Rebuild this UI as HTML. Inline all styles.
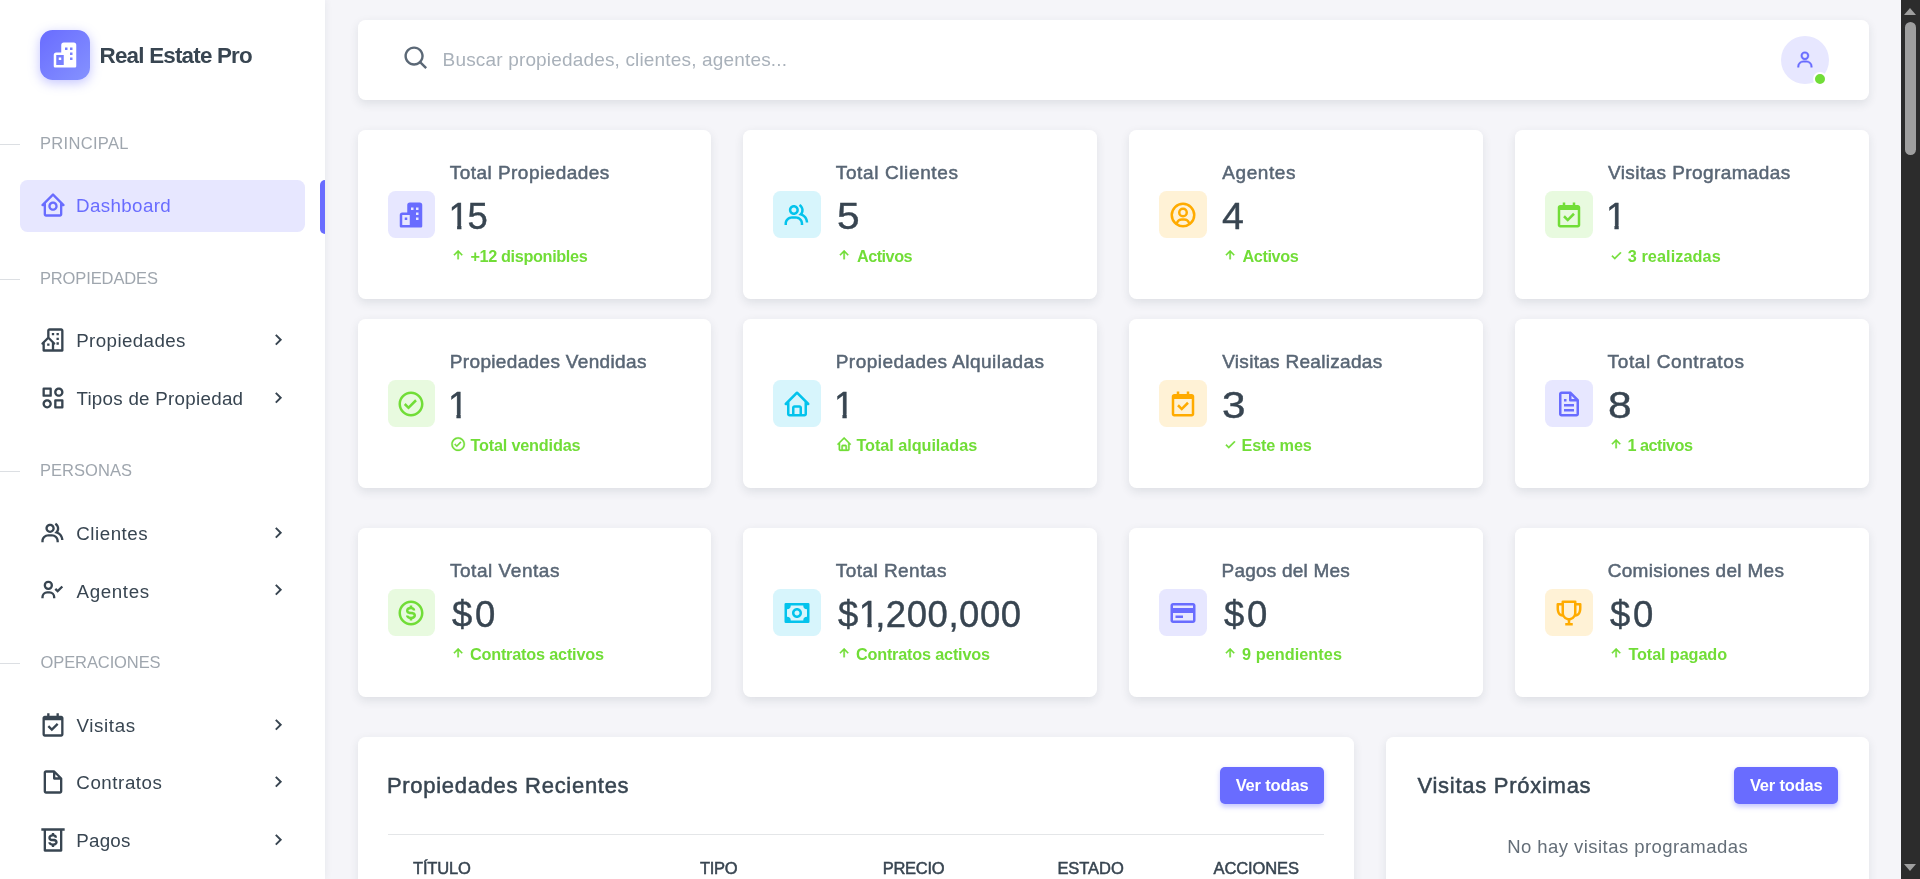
<!DOCTYPE html>
<html lang="es"><head><meta charset="utf-8"><title>Real Estate Pro - Dashboard</title>
<style>
*{box-sizing:border-box;margin:0;padding:0}
html{background:#f5f5f9}
html,body{width:1920px;height:879px;overflow:hidden;font-family:"Liberation Sans", sans-serif;}
body{position:relative;background:transparent;will-change:transform}
.t{position:absolute;white-space:nowrap;display:block}
.i{position:absolute;display:block}
.sidebar{position:absolute;left:0;top:0;width:325px;height:879px;background:#fff;box-shadow:0 0 8px rgba(34,48,62,.07)}
.logo{position:absolute;left:40px;top:30px;width:50px;height:50px;border-radius:12.5px;background:linear-gradient(135deg,#696cff 0%,#8592ff 100%);box-shadow:0 3px 12px rgba(105,108,255,.4)}
.hl{position:absolute;left:0;width:20px;height:1px;background:#dcdfe3}
.active{position:absolute;left:20px;top:180px;width:285px;height:52px;border-radius:7.5px;background:#e7e7ff}
.abar{position:absolute;left:320px;top:180px;width:5px;height:54px;border-radius:5px 0 0 5px;background:#696cff}
.navbar{position:absolute;left:357.5px;top:20px;width:1511px;height:80px;background:#fff;border-radius:7.5px;box-shadow:0 3.75px 10px rgba(34,48,62,.1)}
.avatar{position:absolute;left:1423.5px;top:16px;width:48px;height:48px;border-radius:50%;background:#e7e7ff}
.dot{position:absolute;left:31.5px;top:35.5px;width:14.5px;height:14.5px;border-radius:50%;background:#71dd37;border:2.5px solid #fff}
.card{position:absolute;background:#fff;border-radius:7.5px;box-shadow:0 3.75px 10px rgba(34,48,62,.1)}
.stat{height:169px}
.med{-webkit-text-stroke:.5px currentColor}
.num{-webkit-text-stroke:.4px currentColor}
.one{display:inline-block}
.av{position:absolute;left:30px;top:61px;width:47.5px;height:47px;border-radius:7.5px}
.btn{position:absolute;display:block;width:104px;height:36.7px;border-radius:5px;background:#696cff;box-shadow:0 2.5px 5px rgba(105,108,255,.38)}
.hr{position:absolute;height:1px;background:#e4e6e8}
.sbar{position:absolute;left:1901px;top:0;width:19px;height:879px;background:#2c2c2c}
.sbar .thumb{position:absolute;left:4px;top:22px;width:11px;height:133px;border-radius:5.5px;background:#9f9f9f}
.sbar .up{position:absolute;left:2.9px;top:8px;width:0;height:0;border-left:6.7px solid transparent;border-right:6.7px solid transparent;border-bottom:7px solid #9f9f9f}
.sbar .down{position:absolute;left:2.9px;top:864px;width:0;height:0;border-left:6.7px solid transparent;border-right:6.7px solid transparent;border-top:7px solid #9f9f9f}
</style></head>
<body>
<aside class="sidebar"><div class="logo"><svg class="i" style="left:10.00px;top:10.00px;width:30px;height:30px;" viewBox="0 0 24 24" fill="#fff"><path fill-rule="evenodd" d="M11 2h8a2 2 0 0 1 2 2v17a1 1 0 0 1-1 1H4a1 1 0 0 1-1-1v-9a2 2 0 0 1 2-2h4V4a2 2 0 0 1 2-2zM5 12h6v8H5zM12 6h2v2h-2zM16 6h2v2h-2zM16 10h2v2h-2zM16 14h2v2h-2zM7 14h2v2H7z"/></svg></div><span class="t " style="left:99.60px;top:43.00px;font-size:22.4px;line-height:25px;letter-spacing:-0.797px;color:#384551;font-weight:700;">Real Estate Pro</span><div class="hl" style="top:144px"></div><span class="t " style="left:39.90px;top:134.00px;font-size:16.5px;line-height:18px;letter-spacing:0.337px;color:#9fa6ae;">PRINCIPAL</span><div class="hl" style="top:279px"></div><span class="t " style="left:39.90px;top:269.00px;font-size:16.5px;line-height:18px;letter-spacing:-0.109px;color:#9fa6ae;">PROPIEDADES</span><div class="hl" style="top:471px"></div><span class="t " style="left:39.90px;top:461.00px;font-size:16.5px;line-height:18px;letter-spacing:0.059px;color:#9fa6ae;">PERSONAS</span><div class="hl" style="top:663px"></div><span class="t " style="left:40.50px;top:653.00px;font-size:16.5px;line-height:18px;letter-spacing:-0.092px;color:#9fa6ae;">OPERACIONES</span><div class="active"></div><div class="abar"></div><svg class="i" style="left:39.00px;top:190.50px;width:28px;height:28px;" viewBox="0 0 24 24" fill="#696cff"><path d="M3 13h1v7c0 1.103.897 2 2 2h12c1.103 0 2-.897 2-2v-7h1a1 1 0 0 0 .707-1.707l-9-9a.999.999 0 0 0-1.414 0l-9 9A1 1 0 0 0 3 13zm9-8.586 6 6V15l.001 5H6v-9.586l6-6z"/><path d="M12 17c2.206 0 4-1.794 4-4s-1.794-4-4-4-4 1.794-4 4 1.794 4 4 4zm0-6c1.103 0 2 .897 2 2s-.897 2-2 2-2-.897-2-2 .897-2 2-2z"/></svg><span class="t " style="left:76.10px;top:195.00px;font-size:18.75px;line-height:21px;letter-spacing:0.363px;color:#696cff;">Dashboard</span><svg class="i" style="left:39.00px;top:325.70px;width:28px;height:28px;" viewBox="0 0 24 24" fill="#384551"><path d="M19 2H9c-1.103 0-2 .897-2 2v5.586l-4.707 4.707A1 1 0 0 0 3 16v5a1 1 0 0 0 1 1h16a1 1 0 0 0 1-1V4c0-1.103-.897-2-2-2zm-8 18H5v-5.586l3-3 3 3V20zm8 0h-6v-4a.999.999 0 0 0 .707-1.707L9 9.586V4h10v16z"/><path d="M11 6h2v2h-2zm4 0h2v2h-2zm0 4.031h2V12h-2zM15 14h2v2h-2zm-8 1h2v2H7z"/></svg><span class="t " style="left:76.20px;top:330.00px;font-size:18.75px;line-height:21px;letter-spacing:0.399px;color:#384551;">Propiedades</span><svg class="i" style="left:265.85px;top:327.75px;width:23.5px;height:23.5px;" viewBox="0 0 24 24" fill="#384551"><path d="M10.707 17.707 16.414 12l-5.707-5.707-1.414 1.414L13.586 12l-4.293 4.293z"/></svg><svg class="i" style="left:39.00px;top:383.50px;width:28px;height:28px;" viewBox="0 0 24 24" fill="#384551"><path d="M10 3H4a1 1 0 0 0-1 1v6a1 1 0 0 0 1 1h6a1 1 0 0 0 1-1V4a1 1 0 0 0-1-1zM9 9H5V5h4v4zm11 4h-6a1 1 0 0 0-1 1v6a1 1 0 0 0 1 1h6a1 1 0 0 0 1-1v-6a1 1 0 0 0-1-1zm-1 6h-4v-4h4v4zM17 3c-2.206 0-4 1.794-4 4s1.794 4 4 4 4-1.794 4-4-1.794-4-4-4zm0 6c-1.103 0-2-.897-2-2s.897-2 2-2 2 .897 2 2-.897 2-2 2zM7 13c-2.206 0-4 1.794-4 4s1.794 4 4 4 4-1.794 4-4-1.794-4-4-4zm0 6c-1.103 0-2-.897-2-2s.897-2 2-2 2 .897 2 2-.897 2-2 2z"/></svg><span class="t " style="left:76.40px;top:388.00px;font-size:18.75px;line-height:21px;letter-spacing:0.277px;color:#384551;">Tipos de Propiedad</span><svg class="i" style="left:265.85px;top:385.55px;width:23.5px;height:23.5px;" viewBox="0 0 24 24" fill="#384551"><path d="M10.707 17.707 16.414 12l-5.707-5.707-1.414 1.414L13.586 12l-4.293 4.293z"/></svg><svg class="i" style="left:39.00px;top:519.10px;width:28px;height:28px;" viewBox="0 0 24 24" fill="#384551"><path d="M16.604 11.048a5.67 5.67 0 0 0 .751-3.44c-.179-1.784-1.175-3.361-2.803-4.44l-1.105 1.666c1.119.742 1.8 1.799 1.918 2.974a3.693 3.693 0 0 1-1.072 2.986l-1.192 1.192 1.618.475C18.951 13.701 19 17.957 19 18h2c0-1.789-.956-5.285-4.396-6.952z"/><path d="M9.5 12c2.206 0 4-1.794 4-4s-1.794-4-4-4-4 1.794-4 4 1.794 4 4 4zm0-6c1.103 0 2 .897 2 2s-.897 2-2 2-2-.897-2-2 .897-2 2-2zm1.500 7H8c-3.309 0-6 2.691-6 6v1h2v-1c0-2.206 1.794-4 4-4h3c2.206 0 4 1.794 4 4v1h2v-1c0-3.309-2.691-6-6-6z"/></svg><span class="t " style="left:76.30px;top:523.00px;font-size:18.75px;line-height:21px;letter-spacing:0.519px;color:#384551;">Clientes</span><svg class="i" style="left:265.85px;top:521.15px;width:23.5px;height:23.5px;" viewBox="0 0 24 24" fill="#384551"><path d="M10.707 17.707 16.414 12l-5.707-5.707-1.414 1.414L13.586 12l-4.293 4.293z"/></svg><svg class="i" style="left:39.00px;top:576.30px;width:28px;height:28px;" viewBox="0 0 24 24" fill="#384551"><path d="M19.29 8.29 16 11.58l-1.3-1.290-1.410 1.420 2.700 2.700 4.710-4.700zM4 8a3.910 3.910 0 0 0 4 4 3.910 3.910 0 0 0 4-4 3.910 3.910 0 0 0-4-4 3.910 3.910 0 0 0-4 4zm6 0a1.910 1.910 0 0 1-2 2 1.910 1.910 0 0 1-2-2 1.910 1.910 0 0 1 2-2 1.910 1.910 0 0 1 2 2zM4 18a3 3 0 0 1 3-3h2a3 3 0 0 1 3 3v1h2v-1a5 5 0 0 0-5-5H7a5 5 0 0 0-5 5v1h2z"/></svg><span class="t " style="left:76.60px;top:581.00px;font-size:18.75px;line-height:21px;letter-spacing:0.612px;color:#384551;">Agentes</span><svg class="i" style="left:265.85px;top:578.35px;width:23.5px;height:23.5px;" viewBox="0 0 24 24" fill="#384551"><path d="M10.707 17.707 16.414 12l-5.707-5.707-1.414 1.414L13.586 12l-4.293 4.293z"/></svg><svg class="i" style="left:39.00px;top:710.70px;width:28px;height:28px;" viewBox="0 0 24 24" fill="#384551"><path d="M19 4h-2V2h-2v2H9V2H7v2H5c-1.103 0-2 .897-2 2v14c0 1.103.897 2 2 2h14c1.103 0 2-.897 2-2V6c0-1.103-.897-2-2-2zm.002 16H5V8h14l.002 12z"/><path d="m11 17.414 5.707-5.707-1.414-1.414L11 14.586l-2.293-2.293-1.414 1.414z"/></svg><span class="t " style="left:76.60px;top:715.00px;font-size:18.75px;line-height:21px;letter-spacing:0.598px;color:#384551;">Visitas</span><svg class="i" style="left:265.85px;top:712.75px;width:23.5px;height:23.5px;" viewBox="0 0 24 24" fill="#384551"><path d="M10.707 17.707 16.414 12l-5.707-5.707-1.414 1.414L13.586 12l-4.293 4.293z"/></svg><svg class="i" style="left:39.00px;top:767.90px;width:28px;height:28px;" viewBox="0 0 24 24" fill="#384551"><path d="M19.937 8.680c-.011-.032-.02-.063-.033-.094a.997.997 0 0 0-.196-.293l-6-6a.997.997 0 0 0-.293-.196c-.03-.014-.062-.022-.094-.033a.991.991 0 0 0-.259-.051C13.040 2.011 13.021 2 13 2H6c-1.103 0-2 .897-2 2v16c0 1.103.897 2 2 2h12c1.103 0 2-.897 2-2V9c0-.021-.011-.04-.013-.062a.990.990 0 0 0-.050-.258zM16.586 8H14V5.414L16.586 8zM6 20V4h6v5a1 1 0 0 0 1 1h5l.002 10H6z"/></svg><span class="t " style="left:76.30px;top:772.00px;font-size:18.75px;line-height:21px;letter-spacing:0.548px;color:#384551;">Contratos</span><svg class="i" style="left:265.85px;top:769.95px;width:23.5px;height:23.5px;" viewBox="0 0 24 24" fill="#384551"><path d="M10.707 17.707 16.414 12l-5.707-5.707-1.414 1.414L13.586 12l-4.293 4.293z"/></svg><svg class="i" style="left:39.00px;top:825.60px;width:28px;height:28px;" viewBox="0 0 24 24" fill="#384551"><path d="M12 15c-1.840 0-2-.860-2-1H8c0 .920.660 2.550 3 2.920V18h2v-1.080c2-.340 3-1.630 3-2.920 0-1.120-.520-3-4-3-2 0-2-.630-2-1s.700-1 2-1 1.390.640 1.400 1h2A3 3 0 0 0 13 7.120V6h-2v1.090C9 7.420 8 8.710 8 10c0 1.120.520 3 4 3 2 0 2 .680 2 1s-.620 1-2 1z"/><path d="M5 2H2v2h2v17a1 1 0 0 0 1 1h14a1 1 0 0 0 1-1V4h2V2H5zm13 18H6V4h12z"/></svg><span class="t " style="left:76.20px;top:830.00px;font-size:18.75px;line-height:21px;letter-spacing:0.253px;color:#384551;">Pagos</span><svg class="i" style="left:265.85px;top:827.65px;width:23.5px;height:23.5px;" viewBox="0 0 24 24" fill="#384551"><path d="M10.707 17.707 16.414 12l-5.707-5.707-1.414 1.414L13.586 12l-4.293 4.293z"/></svg></aside>
<nav class="navbar"><svg class="i" style="left:44.85px;top:24.40px;width:29px;height:29px;" viewBox="0 0 24 24" fill="#5b6876"><path d="M10 18a7.952 7.952 0 0 0 4.897-1.688l4.396 4.396 1.414-1.414-4.396-4.396A7.952 7.952 0 0 0 18 10c0-4.411-3.589-8-8-8s-8 3.589-8 8 3.589 8 8 8zm0-14c3.309 0 6 2.691 6 6s-2.691 6-6 6-6-2.691-6-6 2.691-6 6-6z"/></svg><span class="t " style="left:85.10px;top:29.00px;font-size:19px;line-height:21px;letter-spacing:0.164px;color:#a9b1ba;">Buscar propiedades, clientes, agentes...</span><div class="avatar"><svg class="i" style="left:14.10px;top:14.10px;width:19.8px;height:19.8px;stroke:#696cff;stroke-width:.45px" viewBox="0 0 24 24" fill="#696cff"><path d="M12 2a5 5 0 1 0 5 5 5 5 0 0 0-5-5zm0 8a3 3 0 1 1 3-3 3 3 0 0 1-3 3zm9 11v-1a7 7 0 0 0-7-7h-4a7 7 0 0 0-7 7v1h2v-1a5 5 0 0 1 5-5h4a5 5 0 0 1 5 5v1z"/></svg><i class="dot"></i></div></nav>
<div class="card stat" style="left:357.5px;top:130px;width:353.25px"><div class="av" style="background:#e7e7ff"><svg class="i" style="left:8.75px;top:8.60px;width:30px;height:30px;" viewBox="0 0 24 24" fill="#696cff"><path fill-rule="evenodd" d="M11 2h8a2 2 0 0 1 2 2v17a1 1 0 0 1-1 1H4a1 1 0 0 1-1-1v-9a2 2 0 0 1 2-2h4V4a2 2 0 0 1 2-2zM5 12h6v8H5zM12 6h2v2h-2zM16 6h2v2h-2zM16 10h2v2h-2zM16 14h2v2h-2zM7 14h2v2H7z"/></svg></div><span class="t med" style="left:92.20px;top:32.00px;font-size:19px;line-height:21px;letter-spacing:0.469px;color:#596675;">Total Propiedades</span><span class="t num" style="left:91.09px;top:66.00px;font-size:36.5px;line-height:41px;letter-spacing:3.054px;color:#384551;"><span class="one" style="clip-path:polygon(-2px -2px,60px -2px,60px 29.35px,12.83px 29.35px,12.83px 60px,8.53px 60px,8.53px 29.35px,-2px 29.35px);margin-right:-0.125em">1</span>5</span><svg class="i" style="left:92.47px;top:117.47px;width:16.25px;height:16.25px;stroke:#71dd37;stroke-width:.5px" viewBox="0 0 24 24" fill="#71dd37"><path d="M11 8.414V18h2V8.414l4.293 4.293 1.414-1.414L12 4.586l-6.707 6.707 1.414 1.414z"/></svg><span class="t " style="left:112.90px;top:117.00px;font-size:16.25px;line-height:18px;letter-spacing:-0.359px;color:#71dd37;font-weight:700;">+12 disponibles</span></div>
<div class="card stat" style="left:743.375px;top:130px;width:353.25px"><div class="av" style="background:#d7f5fc"><svg class="i" style="left:8.75px;top:8.60px;width:30px;height:30px;" viewBox="0 0 24 24" fill="#03c3ec"><path d="M16.604 11.048a5.67 5.67 0 0 0 .751-3.44c-.179-1.784-1.175-3.361-2.803-4.44l-1.105 1.666c1.119.742 1.8 1.799 1.918 2.974a3.693 3.693 0 0 1-1.072 2.986l-1.192 1.192 1.618.475C18.951 13.701 19 17.957 19 18h2c0-1.789-.956-5.285-4.396-6.952z"/><path d="M9.5 12c2.206 0 4-1.794 4-4s-1.794-4-4-4-4 1.794-4 4 1.794 4 4 4zm0-6c1.103 0 2 .897 2 2s-.897 2-2 2-2-.897-2-2 .897-2 2-2zm1.500 7H8c-3.309 0-6 2.691-6 6v1h2v-1c0-2.206 1.794-4 4-4h3c2.206 0 4 1.794 4 4v1h2v-1c0-3.309-2.691-6-6-6z"/></svg></div><span class="t med" style="left:92.43px;top:32.00px;font-size:19px;line-height:21px;letter-spacing:0.619px;color:#596675;">Total Clientes</span><span class="t num" style="transform:scaleX(1.1143);transform-origin:0 0;left:93.35px;top:66.00px;font-size:36.5px;line-height:41px;letter-spacing:2.020px;color:#384551;">5</span><svg class="i" style="left:92.47px;top:117.47px;width:16.25px;height:16.25px;stroke:#71dd37;stroke-width:.5px" viewBox="0 0 24 24" fill="#71dd37"><path d="M11 8.414V18h2V8.414l4.293 4.293 1.414-1.414L12 4.586l-6.707 6.707 1.414 1.414z"/></svg><span class="t " style="left:113.52px;top:117.00px;font-size:16.25px;line-height:18px;letter-spacing:-0.494px;color:#71dd37;font-weight:700;">Activos</span></div>
<div class="card stat" style="left:1129.25px;top:130px;width:353.25px"><div class="av" style="background:#fff2d6"><svg class="i" style="left:8.75px;top:8.60px;width:30px;height:30px;" viewBox="0 0 24 24" fill="#ffab00"><path d="M12 2A10.130 10.130 0 0 0 2 12a10 10 0 0 0 4 7.920V20h.100a9.700 9.700 0 0 0 11.800 0h.100v-.080A10 10 0 0 0 22 12 10.130 10.130 0 0 0 12 2zM8.070 18.930A3 3 0 0 1 11 16.570h2a3 3 0 0 1 2.930 2.360 7.750 7.750 0 0 1-7.860 0zm9.540-1.290A5 5 0 0 0 13 14.570h-2a5 5 0 0 0-4.610 3.070A8 8 0 0 1 4 12a8.100 8.100 0 0 1 8-8 8.100 8.100 0 0 1 8 8 8 8 0 0 1-2.390 5.640z"/><path d="M12 6a3.910 3.910 0 0 0-4 4 3.910 3.910 0 0 0 4 4 3.910 3.910 0 0 0 4-4 3.910 3.910 0 0 0-4-4zm0 6a1.910 1.910 0 0 1-2-2 1.910 1.910 0 0 1 2-2 1.910 1.910 0 0 1 2 2 1.910 1.910 0 0 1-2 2z"/></svg></div><span class="t med" style="left:93.05px;top:32.00px;font-size:19px;line-height:21px;letter-spacing:0.563px;color:#596675;">Agentes</span><span class="t num" style="transform:scaleX(1.0786);transform-origin:0 0;left:93.13px;top:66.00px;font-size:36.5px;line-height:41px;letter-spacing:1.480px;color:#384551;">4</span><svg class="i" style="left:92.47px;top:117.47px;width:16.25px;height:16.25px;stroke:#71dd37;stroke-width:.5px" viewBox="0 0 24 24" fill="#71dd37"><path d="M11 8.414V18h2V8.414l4.293 4.293 1.414-1.414L12 4.586l-6.707 6.707 1.414 1.414z"/></svg><span class="t " style="left:113.25px;top:117.00px;font-size:16.25px;line-height:18px;letter-spacing:-0.394px;color:#71dd37;font-weight:700;">Activos</span></div>
<div class="card stat" style="left:1515.125px;top:130px;width:353.8px"><div class="av" style="background:#e8fadf"><svg class="i" style="left:8.75px;top:8.60px;width:30px;height:30px;" viewBox="0 0 24 24" fill="#71dd37"><path d="M19 4h-2V2h-2v2H9V2H7v2H5c-1.103 0-2 .897-2 2v14c0 1.103.897 2 2 2h14c1.103 0 2-.897 2-2V6c0-1.103-.897-2-2-2zm.002 16H5V8h14l.002 12z"/><path d="m11 17.414 5.707-5.707-1.414-1.414L11 14.586l-2.293-2.293-1.414 1.414z"/></svg></div><span class="t med" style="left:92.88px;top:32.00px;font-size:19px;line-height:21px;letter-spacing:0.408px;color:#596675;">Visitas Programadas</span><span class="t num" style="transform:scaleX(0.9912);transform-origin:0 0;left:90.79px;top:66.00px;font-size:36.5px;line-height:41px;letter-spacing:-0.087px;color:#384551;"><span class="one" style="clip-path:polygon(-2px -2px,60px -2px,60px 29.35px,12.83px 29.35px,12.83px 60px,8.53px 60px,8.53px 29.35px,-2px 29.35px)">1</span></span><svg class="i" style="left:92.47px;top:117.47px;width:16.25px;height:16.25px;stroke:#71dd37;stroke-width:.5px" viewBox="0 0 24 24" fill="#71dd37"><path d="m10 15.586-3.293-3.293-1.414 1.414L10 18.414l9.707-9.707-1.414-1.414z"/></svg><span class="t " style="left:112.67px;top:117.00px;font-size:16.25px;line-height:18px;letter-spacing:0.072px;color:#71dd37;font-weight:700;">3 realizadas</span></div>
<div class="card stat" style="left:357.5px;top:319px;width:353.25px"><div class="av" style="background:#e8fadf"><svg class="i" style="left:8.75px;top:8.60px;width:30px;height:30px;" viewBox="0 0 24 24" fill="#71dd37"><path d="M12 2C6.486 2 2 6.486 2 12s4.486 10 10 10 10-4.486 10-10S17.514 2 12 2zm0 18c-4.411 0-8-3.589-8-8s3.589-8 8-8 8 3.589 8 8-3.589 8-8 8z"/><path d="M9.999 13.587 7.700 11.292l-1.412 1.416 3.713 3.705 6.706-6.706-1.414-1.414z"/></svg></div><span class="t med" style="left:92.30px;top:32.00px;font-size:19px;line-height:21px;letter-spacing:0.340px;color:#596675;">Propiedades Vendidas</span><span class="t num" style="transform:scaleX(0.9912);transform-origin:0 0;left:90.82px;top:66.00px;font-size:36.5px;line-height:41px;letter-spacing:-0.087px;color:#384551;"><span class="one" style="clip-path:polygon(-2px -2px,60px -2px,60px 29.35px,12.83px 29.35px,12.83px 60px,8.53px 60px,8.53px 29.35px,-2px 29.35px)">1</span></span><svg class="i" style="left:92.47px;top:117.47px;width:16.25px;height:16.25px;stroke:#71dd37;stroke-width:.5px" viewBox="0 0 24 24" fill="#71dd37"><path d="M12 2C6.486 2 2 6.486 2 12s4.486 10 10 10 10-4.486 10-10S17.514 2 12 2zm0 18c-4.411 0-8-3.589-8-8s3.589-8 8-8 8 3.589 8 8-3.589 8-8 8z"/><path d="M9.999 13.587 7.700 11.292l-1.412 1.416 3.713 3.705 6.706-6.706-1.414-1.414z"/></svg><span class="t " style="left:112.90px;top:117.00px;font-size:16.25px;line-height:18px;letter-spacing:-0.187px;color:#71dd37;font-weight:700;">Total vendidas</span></div>
<div class="card stat" style="left:743.375px;top:319px;width:353.25px"><div class="av" style="background:#d7f5fc"><svg class="i" style="left:8.75px;top:8.60px;width:30px;height:30px;" viewBox="0 0 24 24" fill="#03c3ec"><path d="M3 13h1v7c0 1.103.897 2 2 2h12c1.103 0 2-.897 2-2v-7h1a1 1 0 0 0 .707-1.707l-9-9a.999.999 0 0 0-1.414 0l-9 9A1 1 0 0 0 3 13zm7 7v-5h4v5h-4zm2-15.586 6 6V15l.001 5H16v-5c0-1.103-.897-2-2-2h-4c-1.103 0-2 .897-2 2v5H6v-9.586l6-6z"/></svg></div><span class="t med" style="left:92.33px;top:32.00px;font-size:19px;line-height:21px;letter-spacing:0.465px;color:#596675;">Propiedades Alquiladas</span><span class="t num" style="transform:scaleX(0.9912);transform-origin:0 0;left:90.84px;top:66.00px;font-size:36.5px;line-height:41px;letter-spacing:-0.087px;color:#384551;"><span class="one" style="clip-path:polygon(-2px -2px,60px -2px,60px 29.35px,12.83px 29.35px,12.83px 60px,8.53px 60px,8.53px 29.35px,-2px 29.35px)">1</span></span><svg class="i" style="left:92.47px;top:117.47px;width:16.25px;height:16.25px;stroke:#71dd37;stroke-width:.5px" viewBox="0 0 24 24" fill="#71dd37"><path d="M3 13h1v7c0 1.103.897 2 2 2h12c1.103 0 2-.897 2-2v-7h1a1 1 0 0 0 .707-1.707l-9-9a.999.999 0 0 0-1.414 0l-9 9A1 1 0 0 0 3 13zm7 7v-5h4v5h-4zm2-15.586 6 6V15l.001 5H16v-5c0-1.103-.897-2-2-2h-4c-1.103 0-2 .897-2 2v5H6v-9.586l6-6z"/></svg><span class="t " style="left:113.03px;top:117.00px;font-size:16.25px;line-height:18px;letter-spacing:-0.051px;color:#71dd37;font-weight:700;">Total alquiladas</span></div>
<div class="card stat" style="left:1129.25px;top:319px;width:353.25px"><div class="av" style="background:#fff2d6"><svg class="i" style="left:8.75px;top:8.60px;width:30px;height:30px;" viewBox="0 0 24 24" fill="#ffab00"><path d="M19 4h-2V2h-2v2H9V2H7v2H5c-1.103 0-2 .897-2 2v14c0 1.103.897 2 2 2h14c1.103 0 2-.897 2-2V6c0-1.103-.897-2-2-2zm.002 16H5V8h14l.002 12z"/><path d="m11 17.414 5.707-5.707-1.414-1.414L11 14.586l-2.293-2.293-1.414 1.414z"/></svg></div><span class="t med" style="left:92.95px;top:32.00px;font-size:19px;line-height:21px;letter-spacing:0.300px;color:#596675;">Visitas Realizadas</span><span class="t num" style="transform:scaleX(1.1595);transform-origin:0 0;left:92.63px;top:66.00px;font-size:36.5px;line-height:41px;letter-spacing:2.820px;color:#384551;">3</span><svg class="i" style="left:92.47px;top:117.47px;width:16.25px;height:16.25px;stroke:#71dd37;stroke-width:.5px" viewBox="0 0 24 24" fill="#71dd37"><path d="m10 15.586-3.293-3.293-1.414 1.414L10 18.414l9.707-9.707-1.414-1.414z"/></svg><span class="t " style="left:112.25px;top:117.00px;font-size:16.25px;line-height:18px;letter-spacing:-0.147px;color:#71dd37;font-weight:700;">Este mes</span></div>
<div class="card stat" style="left:1515.125px;top:319px;width:353.8px"><div class="av" style="background:#e7e7ff"><svg class="i" style="left:8.75px;top:8.60px;width:30px;height:30px;" viewBox="0 0 24 24" fill="#696cff"><path d="M19.903 8.586a.997.997 0 0 0-.196-.293l-6-6a.997.997 0 0 0-.293-.196c-.03-.014-.062-.022-.094-.033a.991.991 0 0 0-.259-.051C13.040 2.011 13.021 2 13 2H6c-1.103 0-2 .897-2 2v16c0 1.103.897 2 2 2h12c1.103 0 2-.897 2-2V9c0-.021-.011-.04-.013-.062a.952.952 0 0 0-.051-.259c-.01-.032-.019-.063-.033-.093zM16.586 8H14V5.414L16.586 8zM6 20V4h6v5a1 1 0 0 0 1 1h5l.002 10H6z"/><path d="M8 12h8v2H8zm0 4h8v2H8zm0-8h2v2H8z"/></svg></div><span class="t med" style="left:92.47px;top:32.00px;font-size:19px;line-height:21px;letter-spacing:0.608px;color:#596675;">Total Contratos</span><span class="t num" style="transform:scaleX(1.1652);transform-origin:0 0;left:92.75px;top:66.00px;font-size:36.5px;line-height:41px;letter-spacing:2.920px;color:#384551;">8</span><svg class="i" style="left:92.47px;top:117.47px;width:16.25px;height:16.25px;stroke:#71dd37;stroke-width:.5px" viewBox="0 0 24 24" fill="#71dd37"><path d="M11 8.414V18h2V8.414l4.293 4.293 1.414-1.414L12 4.586l-6.707 6.707 1.414 1.414z"/></svg><span class="t " style="left:112.38px;top:117.00px;font-size:16.25px;line-height:18px;letter-spacing:-0.515px;color:#71dd37;font-weight:700;">1 activos</span></div>
<div class="card stat" style="left:357.5px;top:528px;width:353.25px"><div class="av" style="background:#e8fadf"><svg class="i" style="left:8.75px;top:8.60px;width:30px;height:30px;" viewBox="0 0 24 24" fill="#71dd37"><path d="M12 2C6.486 2 2 6.486 2 12s4.486 10 10 10 10-4.486 10-10S17.514 2 12 2zm0 18c-4.411 0-8-3.589-8-8s3.589-8 8-8 8 3.589 8 8-3.589 8-8 8z"/><path d="M12 11c-2 0-2-.630-2-1s.700-1 2-1 1.390.640 1.400 1h2A3 3 0 0 0 13 7.120V6h-2v1.090C9 7.420 8 8.710 8 10c0 1.120.520 3 4 3 2 0 2 .680 2 1s-.620 1-2 1c-1.840 0-2-.860-2-1H8c0 .920.660 2.550 3 2.920V18h2v-1.080c2-.340 3-1.630 3-2.920 0-1.120-.520-3-4-3z"/></svg></div><span class="t med" style="left:92.40px;top:32.00px;font-size:19px;line-height:21px;letter-spacing:0.553px;color:#596675;">Total Ventas</span><span class="t num" style="left:94.40px;top:66.00px;font-size:36.5px;line-height:41px;letter-spacing:2.710px;color:#384551;">$0</span><svg class="i" style="left:92.47px;top:117.47px;width:16.25px;height:16.25px;stroke:#71dd37;stroke-width:.5px" viewBox="0 0 24 24" fill="#71dd37"><path d="M11 8.414V18h2V8.414l4.293 4.293 1.414-1.414L12 4.586l-6.707 6.707 1.414 1.414z"/></svg><span class="t " style="left:112.40px;top:117.00px;font-size:16.25px;line-height:18px;letter-spacing:-0.195px;color:#71dd37;font-weight:700;">Contratos activos</span></div>
<div class="card stat" style="left:743.375px;top:528px;width:353.25px"><div class="av" style="background:#d7f5fc"><svg class="i" style="left:8.75px;top:8.60px;width:30px;height:30px;" viewBox="0 0 24 24" fill="#03c3ec"><path d="M21 4H3a1 1 0 0 0-1 1v14a1 1 0 0 0 1 1h18a1 1 0 0 0 1-1V5a1 1 0 0 0-1-1zm-1 11a3 3 0 0 0-3 3H7a3 3 0 0 0-3-3V9a3 3 0 0 0 3-3h10a3 3 0 0 0 3 3v6z"/><path d="M12 8c-2.206 0-4 1.794-4 4s1.794 4 4 4 4-1.794 4-4-1.794-4-4-4zm0 6c-1.103 0-2-.897-2-2s.897-2 2-2 2 .897 2 2-.897 2-2 2z"/></svg></div><span class="t med" style="left:92.43px;top:32.00px;font-size:19px;line-height:21px;letter-spacing:0.453px;color:#596675;">Total Rentas</span><span class="t num" style="left:94.62px;top:66.00px;font-size:36.5px;line-height:41px;letter-spacing:0.555px;color:#384551;">$<span class="one" style="clip-path:polygon(-2px -2px,60px -2px,60px 29.35px,12.83px 29.35px,12.83px 60px,8.53px 60px,8.53px 29.35px,-2px 29.35px);margin-right:-0.125em">1</span>,200,000</span><svg class="i" style="left:92.47px;top:117.47px;width:16.25px;height:16.25px;stroke:#71dd37;stroke-width:.5px" viewBox="0 0 24 24" fill="#71dd37"><path d="M11 8.414V18h2V8.414l4.293 4.293 1.414-1.414L12 4.586l-6.707 6.707 1.414 1.414z"/></svg><span class="t " style="left:112.53px;top:117.00px;font-size:16.25px;line-height:18px;letter-spacing:-0.195px;color:#71dd37;font-weight:700;">Contratos activos</span></div>
<div class="card stat" style="left:1129.25px;top:528px;width:353.25px"><div class="av" style="background:#e7e7ff"><svg class="i" style="left:8.75px;top:8.60px;width:30px;height:30px;" viewBox="0 0 24 24" fill="#696cff"><path d="M20 4H4c-1.103 0-2 .897-2 2v12c0 1.103.897 2 2 2h16c1.103 0 2-.897 2-2V6c0-1.103-.897-2-2-2zM4 6h16v2H4V6zm0 12v-6h16.001l.001 6H4z"/><path d="M6 14h6v2H6z"/></svg></div><span class="t med" style="left:92.25px;top:32.00px;font-size:19px;line-height:21px;letter-spacing:0.210px;color:#596675;">Pagos del Mes</span><span class="t num" style="left:94.75px;top:66.00px;font-size:36.5px;line-height:41px;letter-spacing:2.710px;color:#384551;">$0</span><svg class="i" style="left:92.47px;top:117.47px;width:16.25px;height:16.25px;stroke:#71dd37;stroke-width:.5px" viewBox="0 0 24 24" fill="#71dd37"><path d="M11 8.414V18h2V8.414l4.293 4.293 1.414-1.414L12 4.586l-6.707 6.707 1.414 1.414z"/></svg><span class="t " style="left:112.75px;top:117.00px;font-size:16.25px;line-height:18px;letter-spacing:0.055px;color:#71dd37;font-weight:700;">9 pendientes</span></div>
<div class="card stat" style="left:1515.125px;top:528px;width:353.8px"><div class="av" style="background:#fff2d6"><svg class="i" style="left:8.75px;top:8.60px;width:30px;height:30px;" viewBox="0 0 24 24" fill="#ffab00"><path d="M21 4h-3V3a1 1 0 0 0-1-1H7a1 1 0 0 0-1 1v1H3a1 1 0 0 0-1 1v3c0 4.310 1.799 6.910 4.819 7.012A6.001 6.001 0 0 0 11 17.910V20H9v2h6v-2h-2v-2.090a6.010 6.010 0 0 0 4.181-2.898C20.201 14.910 22 12.310 22 8V5a1 1 0 0 0-1-1zM4 8V6h2v6.830C4.216 12.078 4 9.299 4 8zm8 8c-2.206 0-4-1.794-4-4V4h8v8c0 2.206-1.794 4-4 4zm6-3.170V6h2v2c0 1.299-.216 4.078-2 4.830z"/></svg></div><span class="t med" style="left:92.57px;top:32.00px;font-size:19px;line-height:21px;letter-spacing:0.302px;color:#596675;">Comisiones del Mes</span><span class="t num" style="left:94.88px;top:66.00px;font-size:36.5px;line-height:41px;letter-spacing:2.710px;color:#384551;">$0</span><svg class="i" style="left:92.47px;top:117.47px;width:16.25px;height:16.25px;stroke:#71dd37;stroke-width:.5px" viewBox="0 0 24 24" fill="#71dd37"><path d="M11 8.414V18h2V8.414l4.293 4.293 1.414-1.414L12 4.586l-6.707 6.707 1.414 1.414z"/></svg><span class="t " style="left:113.28px;top:117.00px;font-size:16.25px;line-height:18px;letter-spacing:-0.107px;color:#71dd37;font-weight:700;">Total pagado</span></div>
<div class="card" style="left:357.5px;top:737px;width:996.5px;height:200px"><span class="t med" style="left:29.45px;top:36.00px;font-size:22px;line-height:25px;letter-spacing:0.709px;color:#384551;">Propiedades Recientes</span><a class="btn" style="left:862.5px;top:30px"><span class="t " style="left:15.70px;top:9.00px;font-size:16.5px;line-height:18px;letter-spacing:-0.176px;color:#fff;font-weight:700;">Ver todas</span></a><div class="hr" style="left:30px;top:97px;width:936px"></div><span class="t med" style="left:55.50px;top:122.00px;font-size:16.5px;line-height:18px;letter-spacing:-0.187px;color:#384551;">TÍTULO</span><span class="t med" style="left:342.60px;top:122.00px;font-size:16.5px;line-height:18px;letter-spacing:-0.323px;color:#384551;">TIPO</span><span class="t med" style="left:525.20px;top:122.00px;font-size:16.5px;line-height:18px;letter-spacing:-0.265px;color:#384551;">PRECIO</span><span class="t med" style="left:699.90px;top:122.00px;font-size:16.5px;line-height:18px;letter-spacing:-0.057px;color:#384551;">ESTADO</span><span class="t med" style="left:856.10px;top:122.00px;font-size:16.5px;line-height:18px;letter-spacing:-0.111px;color:#384551;">ACCIONES</span></div>
<div class="card" style="left:1386.3px;top:737px;width:482.5px;height:200px"><span class="t med" style="left:31.10px;top:36.00px;font-size:22px;line-height:25px;letter-spacing:0.734px;color:#384551;">Visitas Próximas</span><a class="btn" style="left:347.9000000000001px;top:30px"><span class="t " style="left:15.70px;top:9.00px;font-size:16.5px;line-height:18px;letter-spacing:-0.176px;color:#fff;font-weight:700;">Ver todas</span></a><span class="t " style="left:120.90px;top:99.00px;font-size:18.5px;line-height:21px;letter-spacing:0.446px;color:#646e78;">No hay visitas programadas</span></div>
<div class="sbar"><i class="up"></i><i class="thumb"></i><i class="down"></i></div>
</body></html>
